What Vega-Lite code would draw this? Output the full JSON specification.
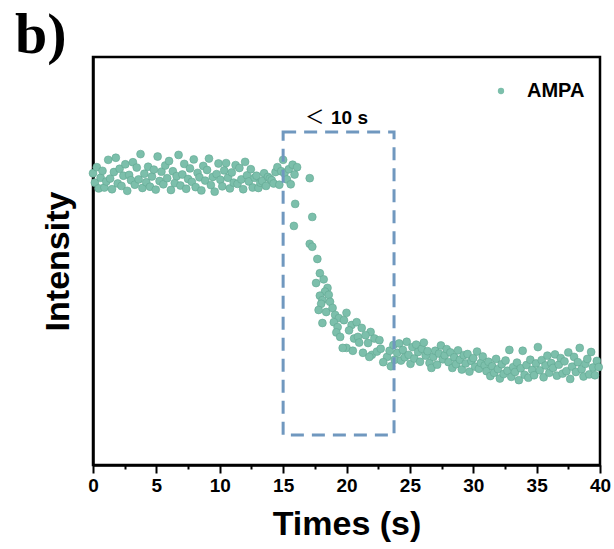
{
  "$schema": "https://vega.github.io/schema/vega-lite/v6.json",
  "width": 507,
  "height": 408,
  "autosize": {"type": "none"},
  "padding": {"left": 93, "top": 57, "right": 14, "bottom": 84},
  "background": "white",
  "title": {"text": "b)", "anchor": "start", "frame": "group", "font": "Liberation Serif", "fontSize": 58, "fontWeight": "bold", "color": "black", "dx": -78, "offset": -8},
  "config": {
    "view": {"stroke": "black", "strokeWidth": 2.5},
    "axis": {"grid": false, "domainColor": "black", "domainWidth": 2.5, "tickColor": "black", "tickWidth": 2, "labelColor": "black", "titleColor": "black", "labelFont": "Liberation Sans", "titleFont": "Liberation Sans", "labelFontWeight": "bold", "titleFontWeight": "bold"}
  },
  "resolve": {"axis": {"x": "independent"}},
  "datasets": {
    "pts": [
      {"t":0.0,"v":71.5},{"t":0.15,"v":69.2},{"t":0.3,"v":73.0},{"t":0.45,"v":67.8},{"t":0.6,"v":70.4},{"t":0.75,"v":72.1},{"t":0.9,"v":68.0},{"t":1.05,"v":69.5},{"t":1.2,"v":74.8},{"t":1.35,"v":70.2},
      {"t":1.5,"v":67.6},{"t":1.65,"v":71.8},{"t":1.8,"v":75.3},{"t":1.95,"v":69.0},{"t":2.1,"v":72.6},{"t":2.25,"v":68.4},{"t":2.4,"v":70.9},{"t":2.55,"v":73.7},{"t":2.7,"v":67.2},{"t":2.85,"v":71.1},
      {"t":3.0,"v":69.8},{"t":3.15,"v":74.2},{"t":3.3,"v":68.7},{"t":3.45,"v":72.9},{"t":3.6,"v":70.0},{"t":3.75,"v":76.2},{"t":3.9,"v":67.9},{"t":4.05,"v":71.4},{"t":4.2,"v":69.3},{"t":4.35,"v":73.1},
      {"t":4.5,"v":68.2},{"t":4.65,"v":70.7},{"t":4.8,"v":72.4},{"t":4.95,"v":67.5},{"t":5.1,"v":75.6},{"t":5.25,"v":69.6},{"t":5.4,"v":71.9},{"t":5.55,"v":68.8},{"t":5.7,"v":73.4},{"t":5.85,"v":70.3},
      {"t":6.0,"v":74.5},{"t":6.15,"v":67.4},{"t":6.3,"v":72.0},{"t":6.45,"v":69.1},{"t":6.6,"v":70.8},{"t":6.75,"v":76.0},{"t":6.9,"v":68.5},{"t":7.05,"v":71.2},{"t":7.2,"v":73.8},{"t":7.35,"v":67.7},
      {"t":7.5,"v":70.1},{"t":7.65,"v":72.7},{"t":7.8,"v":69.4},{"t":7.95,"v":74.9},{"t":8.1,"v":68.1},{"t":8.25,"v":71.6},{"t":8.4,"v":70.5},{"t":8.55,"v":67.3},{"t":8.7,"v":73.3},{"t":8.85,"v":69.7},
      {"t":9.0,"v":72.3},{"t":9.15,"v":75.1},{"t":9.3,"v":68.6},{"t":9.45,"v":70.6},{"t":9.6,"v":67.0},{"t":9.75,"v":71.3},{"t":9.9,"v":73.9},{"t":10.05,"v":69.9},{"t":10.2,"v":68.3},{"t":10.35,"v":72.2},
      {"t":10.5,"v":74.0},{"t":10.65,"v":70.4},{"t":10.8,"v":67.8},{"t":10.95,"v":71.7},{"t":11.1,"v":69.2},{"t":11.25,"v":73.5},{"t":11.4,"v":68.9},{"t":11.55,"v":72.8},{"t":11.7,"v":70.0},{"t":11.85,"v":67.6},
      {"t":12.0,"v":74.3},{"t":12.15,"v":71.0},{"t":12.3,"v":69.5},{"t":12.45,"v":72.5},{"t":12.6,"v":68.0},{"t":12.75,"v":70.4},{"t":12.9,"v":70.9},{"t":13.05,"v":67.9},{"t":13.2,"v":69.2},{"t":13.35,"v":69.6},
      {"t":13.5,"v":71.5},{"t":13.65,"v":68.4},{"t":13.8,"v":70.6},{"t":13.95,"v":70.2},{"t":14.1,"v":69.8},{"t":14.25,"v":69.0},{"t":14.4,"v":71.8},{"t":14.55,"v":73.0},{"t":14.7,"v":68.7},{"t":14.85,"v":72.0},
      {"t":15.0,"v":74.8},{"t":15.1,"v":71.5},{"t":15.3,"v":70.0},{"t":15.45,"v":72.5},{"t":15.6,"v":68.8},{"t":15.75,"v":73.6},{"t":15.9,"v":71.2},{"t":16.1,"v":73.0},{"t":15.95,"v":64.0},{"t":15.85,"v":58.6},
      {"t":17.1,"v":70.3},{"t":17.3,"v":60.8},{"t":17.1,"v":54.2},{"t":17.3,"v":53.5},{"t":17.7,"v":50.5},{"t":17.9,"v":47.0},{"t":17.6,"v":44.6},{"t":18.2,"v":45.5},{"t":18.5,"v":43.4},{"t":18.3,"v":42.5},
      {"t":18.6,"v":41.7},{"t":17.9,"v":41.5},{"t":18.1,"v":40.4},{"t":18.7,"v":40.0},{"t":18.0,"v":39.5},{"t":17.8,"v":38.0},{"t":18.4,"v":37.5},{"t":18.9,"v":38.5},{"t":19.1,"v":36.8},{"t":19.4,"v":36.0},
      {"t":19.8,"v":35.5},{"t":20.0,"v":37.3},{"t":19.0,"v":35.0},{"t":18.1,"v":34.8},{"t":19.3,"v":33.8},{"t":20.4,"v":34.3},{"t":20.8,"v":35.0},{"t":19.2,"v":32.5},{"t":20.2,"v":33.0},{"t":21.2,"v":33.6},
      {"t":21.9,"v":32.6},{"t":20.6,"v":31.0},{"t":19.5,"v":31.4},{"t":20.9,"v":31.4},{"t":21.5,"v":31.8},{"t":22.2,"v":31.0},{"t":21.0,"v":30.0},{"t":20.0,"v":28.7},{"t":19.7,"v":28.7},{"t":20.5,"v":28.0},
      {"t":21.3,"v":27.5},{"t":21.7,"v":29.9},{"t":22.0,"v":27.0},{"t":21.8,"v":26.5},{"t":22.4,"v":27.8},{"t":22.6,"v":30.6},{"t":22.7,"v":28.5},{"t":23.2,"v":26.5},{"t":23.4,"v":28.0},{"t":22.9,"v":25.2},
      {"t":23.5,"v":24.2},{"t":23.7,"v":29.4},{"t":23.8,"v":25.8},
      {"t":24.0,"v":27.5},{"t":24.15,"v":29.8},{"t":24.3,"v":25.6},{"t":24.45,"v":28.2},{"t":24.6,"v":26.4},{"t":24.75,"v":30.2},{"t":24.9,"v":27.0},{"t":25.05,"v":24.8},{"t":25.2,"v":28.9},{"t":25.35,"v":26.1},
      {"t":25.5,"v":29.5},{"t":25.65,"v":27.7},{"t":25.8,"v":25.3},{"t":25.95,"v":28.5},{"t":26.1,"v":30.0},{"t":26.25,"v":26.8},{"t":26.4,"v":27.9},{"t":26.55,"v":25.0},{"t":26.7,"v":23.8},{"t":26.85,"v":26.5},
      {"t":27.0,"v":28.0},{"t":27.15,"v":24.6},{"t":27.3,"v":27.3},{"t":27.45,"v":29.3},{"t":27.6,"v":25.9},{"t":27.75,"v":26.9},{"t":27.9,"v":28.4},
      {"t":28.05,"v":25.2},{"t":28.2,"v":27.6},{"t":28.35,"v":23.8},{"t":28.5,"v":26.4},{"t":28.65,"v":24.7},{"t":28.8,"v":28.1},{"t":28.95,"v":25.8},{"t":29.1,"v":23.4},{"t":29.25,"v":26.9},{"t":29.4,"v":24.9},
      {"t":29.55,"v":27.2},{"t":29.7,"v":22.9},{"t":29.85,"v":25.5},{"t":30.0,"v":26.2},{"t":30.15,"v":24.1},{"t":30.3,"v":27.8},{"t":30.45,"v":23.6},{"t":30.6,"v":25.0},{"t":30.75,"v":26.6},{"t":30.9,"v":24.4},
      {"t":31.05,"v":23.0},{"t":31.2,"v":25.3},{"t":31.35,"v":21.8},{"t":31.5,"v":24.2},{"t":31.65,"v":22.6},{"t":31.8,"v":26.0},{"t":31.95,"v":23.5},{"t":32.1,"v":21.2},{"t":32.25,"v":24.7},{"t":32.4,"v":22.3},
      {"t":32.55,"v":25.6},{"t":32.7,"v":23.1},{"t":32.85,"v":28.2},{"t":33.0,"v":21.6},{"t":33.15,"v":24.0},{"t":33.3,"v":22.8},{"t":33.45,"v":25.1},{"t":33.6,"v":20.8},{"t":33.75,"v":23.7},{"t":33.9,"v":28.0},
      {"t":34.05,"v":22.1},{"t":34.2,"v":24.5},{"t":34.35,"v":21.4},{"t":34.5,"v":25.8},{"t":34.65,"v":23.3},{"t":34.8,"v":22.0},{"t":34.95,"v":24.9},
      {"t":35.1,"v":28.9},{"t":35.25,"v":23.2},{"t":35.4,"v":25.7},{"t":35.55,"v":21.5},{"t":35.7,"v":24.4},{"t":35.85,"v":26.8},{"t":36.0,"v":22.6},{"t":36.15,"v":25.0},{"t":36.3,"v":23.8},{"t":36.45,"v":27.1},
      {"t":36.6,"v":21.9},{"t":36.75,"v":24.6},{"t":36.9,"v":26.2},{"t":37.05,"v":22.4},{"t":37.2,"v":25.4},{"t":37.35,"v":23.0},{"t":37.5,"v":27.6},{"t":37.65,"v":21.1},{"t":37.8,"v":24.1},{"t":37.95,"v":26.5},
      {"t":38.1,"v":22.8},{"t":38.25,"v":25.2},{"t":38.4,"v":28.7},{"t":38.55,"v":23.5},{"t":38.7,"v":21.7},{"t":38.85,"v":24.8},{"t":39.0,"v":26.0},{"t":39.15,"v":22.2},{"t":39.3,"v":27.7},{"t":39.45,"v":23.9},
      {"t":39.6,"v":22.0},{"t":39.75,"v":25.5},{"t":39.9,"v":24.0}
    ]
  },
  "layer": [
    {
      "data": {"name": "pts"},
      "mark": {"type": "point", "filled": true, "size": 62, "opacity": 1, "stroke": "#62a892", "strokeWidth": 0.6},
      "encoding": {
        "x": {"field": "t", "type": "quantitative", "scale": {"domain": [0, 40], "nice": false},
          "axis": {"orient": "bottom", "title": "Times (s)", "values": [0, 5, 10, 15, 20, 25, 30, 35, 40],
            "format": "d", "tickSize": 8,
            "labelFontSize": 19, "labelPadding": 3, "labelFlush": false, "titleFontSize": 34, "titlePadding": 12}},
        "y": {"field": "v", "type": "quantitative", "scale": {"domain": [0, 100], "nice": false},
          "axis": {"title": "Intensity", "labels": false, "ticks": false, "titleFontSize": 34, "titlePadding": 18}},
        "color": {"datum": "AMPA", "type": "nominal", "scale": {"range": ["#7cbfab"]},
          "legend": {"title": null, "orient": "none", "legendX": 398, "legendY": 24, "padding": 0, "symbolSize": 40, "symbolType": "circle", "symbolStrokeWidth": 0, "labelFont": "Liberation Sans", "labelFontSize": 20, "labelFontWeight": "bold", "labelColor": "black", "labelOffset": 16}}
      }
    },
    {
      "data": {"values": [{}]},
      "mark": {"type": "rect", "filled": false, "stroke": "#7098bf", "strokeWidth": 3, "strokeDash": [13, 8]},
      "encoding": {
        "x": {"datum": 15, "type": "quantitative",
          "axis": {"orient": "bottom", "title": null, "values": [2.5, 7.5, 12.5, 17.5, 22.5, 27.5, 32.5, 37.5], "labels": false, "domain": false, "tickSize": 4}},
        "x2": {"datum": 23.75},
        "y": {"datum": 7.35, "type": "quantitative"},
        "y2": {"datum": 81.6}
      }
    },
    {
      "data": {"values": [{}]},
      "mark": {"type": "text", "text": "＜", "font": "Noto Sans CJK SC", "fontSize": 19, "fontWeight": "normal", "color": "black", "align": "center", "baseline": "alphabetic"},
      "encoding": {
        "x": {"datum": 17.5, "type": "quantitative", "axis": null},
        "y": {"datum": 83.6, "type": "quantitative"}
      }
    },
    {
      "data": {"values": [{}]},
      "mark": {"type": "text", "text": "10 s", "font": "Liberation Sans", "fontSize": 19, "fontWeight": "bold", "color": "black", "align": "center", "baseline": "alphabetic"},
      "encoding": {
        "x": {"datum": 20.24, "type": "quantitative", "axis": null},
        "y": {"datum": 83.6, "type": "quantitative"}
      }
    }
  ]
}
